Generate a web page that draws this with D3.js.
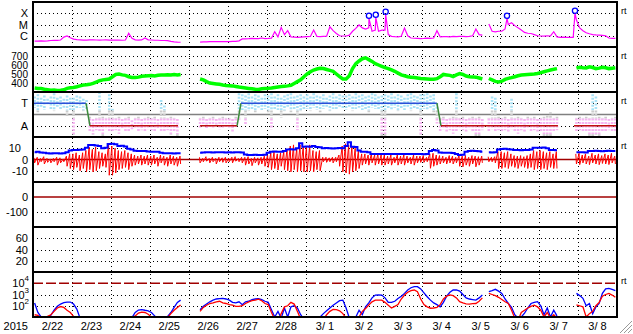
<!DOCTYPE html>
<html lang="en">
<head>
<meta charset="UTF-8">
<title>Space weather summary 2015/2/22 - 3/8</title>
<script src="https://d3js.org/d3.v7.min.js"></script>
<style>
  body { margin: 0; background: #fff; }
  svg { display: block; font-family: "Liberation Sans", Arial, sans-serif; }
  text { fill: #000; white-space: pre; }
</style>
</head>
<body>
<svg id="chart" width="633" height="334"></svg>
<script>
// ---- data: one value per 2-hour bin, starting 2015-02-22 00:00 UT (15 days = 180 bins) ----

const yearLabel = "2015";
const dayLabels = ["2/22","2/23","2/24","2/25","2/26","2/27","2/28","3/ 1","3/ 2","3/ 3","3/ 4","3/ 5","3/ 6","3/ 7","3/ 8"];

// GOES X-ray flux, log10(W/m2)
const xrayLog = [
  -6.47,-6.48,-6.46,-6.47,-6.45,-6.42,-6.40,-6.41,-6.38,-6.12,-6.02,-6.18,
  -6.30,-6.35,-6.36,-6.38,-6.38,-6.37,-6.36,-6.38,-6.39,-6.38,-6.37,-6.38,
  -6.38,-6.39,-6.38,-6.40,-6.38,-5.78,-6.22,-6.36,-6.38,-6.37,-6.20,-6.36,
  -6.38,-6.40,-6.40,-6.42,-6.42,-6.44,-6.50,-6.55,-6.57,-6.58,null,null,
  null,null,null,-6.57,-6.55,-6.54,-6.53,-6.53,-6.52,-6.53,-6.52,-6.52,
  -6.52,-6.50,-6.50,-6.45,-6.28,-6.27,-6.26,-6.24,-6.26,-6.25,-6.20,-6.25,
  -6.24,-6.22,-5.64,-6.10,-5.25,-5.90,-5.55,-6.10,-6.12,-6.14,-6.12,-6.10,
  -6.08,-6.06,-5.49,-6.05,-6.08,-6.06,-6.04,-5.20,-5.55,-5.80,-6.00,-6.02,
  -6.02,-5.95,-5.60,-5.35,-5.04,-5.30,-5.40,-5.30,-5.60,-5.50,-5.60,-5.50,
  -5.50,-5.90,-6.05,-6.08,-6.10,-6.05,-5.31,-6.00,-6.20,-6.22,-6.23,-6.25,
  -6.24,-6.22,-6.23,-6.20,-5.55,-6.10,-6.08,-6.07,-6.10,-6.05,-6.08,-6.06,
  -6.06,-6.08,-6.05,-6.00,-5.40,-5.90,-5.95,null,-4.95,-5.60,-5.65,-5.60,
  -5.60,-5.40,-5.00,-4.84,-5.10,-5.30,-5.49,-5.70,-5.78,-5.80,-5.90,-6.00,
  -6.02,-6.03,-6.00,-6.02,-5.64,-6.10,-6.14,-6.12,-6.14,-6.15,-6.14,-4.60,
  -5.31,-5.55,-5.73,-5.82,-5.90,-5.93,-5.95,-5.97,-6.00,-6.20,-6.23,-6.24
];
// flare peaks (hour from start, log10 flux)
const flareHour = [207.1, 211.3, 217.4, 292.2, 334.1];
const flareLog = [-4.45, -4.36, -4.09, -4.45, -4.0];

// solar wind speed, km/s
const speed = [
  345,340,338,330,325,320,322,318,320,324,340,348,
  350,358,368,378,380,385,395,410,425,435,440,445,
  470,495,500,490,485,470,462,460,465,475,478,480,
  482,478,485,488,490,492,488,495,490,495,null,null,
  null,null,null,445,435,415,400,395,390,385,378,372,
  370,368,362,355,350,345,340,335,330,328,335,340,
  342,345,350,355,360,365,368,375,395,415,435,470,
  500,525,544,555,563,560,550,540,530,500,470,445,
  445,480,560,615,645,670,680,660,640,615,600,585,
  570,560,545,530,510,490,480,470,465,460,455,450,
  448,445,441,442,448,470,495,490,485,472,490,505,
  495,478,470,468,465,455,444,null,450,435,418,412,
  420,440,452,460,470,480,488,492,495,498,500,505,
  515,525,535,545,552,560,null,null,null,null,null,565,
  575,570,568,580,572,560,565,575,570,560,565,570
];

// IMF sector scatter, spread per bin (+1 = toward, -1 = away)
const phiHi = [
  1.6,1.8,1.5,1.7,1.4,1.6,1.9,1.5,1.6,1.4,1.7,1.5,
  1.5,1.7,1.6,1.4,1.3,-0.2,-0.4,-0.3,2.0,-0.2,-0.3,1.8,
  0.5,-0.3,-0.2,-0.4,-0.3,-0.2,-0.5,-0.3,-0.2,-0.4,-0.3,-0.2,
  -0.3,-0.2,-0.4,1.3,0.8,-0.3,-0.2,-0.3,-0.4,null,null,null,
  null,null,null,-0.3,-0.2,-0.4,-0.3,-0.2,-0.4,-0.3,-0.2,-0.3,
  -0.3,-0.4,-0.2,1.9,1.8,1.7,1.9,1.6,1.8,1.7,1.5,1.8,
  1.7,1.9,1.6,1.8,1.5,1.7,1.8,1.9,1.6,1.7,1.8,1.6,
  1.8,1.6,1.9,1.7,1.6,1.8,1.5,1.7,1.9,1.6,1.8,1.7,
  1.7,1.8,1.6,1.9,1.7,1.8,1.6,1.7,1.9,1.8,1.6,1.7,
  1.8,1.7,1.9,1.6,1.8,1.7,1.5,1.8,1.9,1.7,1.6,1.8,
  1.8,1.9,1.7,1.8,1.0,-0.3,-0.2,-0.4,-0.3,-0.2,1.9,-0.3,
  -0.2,-0.4,-0.3,-0.2,-0.3,-0.2,-0.4,null,-0.3,1.6,1.5,-0.2,
  -0.3,-0.2,-0.4,1.4,-0.3,-0.2,-0.3,-0.4,-0.2,-0.3,-0.2,-0.4,
  -0.3,-0.2,-0.1,0.2,-0.3,-0.2,null,null,null,null,null,-0.3,
  -0.2,-0.3,-0.2,-0.3,1.8,1.6,-0.2,-0.3,-0.2,-0.4,-0.3,-0.2
];
const phiLo = [
  0.6,0.2,0.7,0.4,0.8,0.5,0.3,0.7,0.5,0.6,-0.2,0.4,
  -1.8,0.5,0.6,0.3,0.5,-1.5,-1.8,-1.4,-1.5,-1.9,-1.3,-1.6,
  -1.5,-1.4,-1.7,-1.3,-1.5,-1.6,-1.4,-1.2,-1.5,-1.4,-1.6,-1.3,
  -1.4,-1.5,-1.3,-1.5,-1.6,-1.4,-1.8,-1.5,-1.9,null,null,null,
  null,null,null,-1.2,-1.0,-1.3,-1.1,-1.2,-1.0,-1.3,-1.2,-1.1,
  -1.2,-1.6,-1.1,-0.5,0.4,-0.9,0.3,0.5,0.2,0.6,0.4,0.5,
  0.2,-1.3,0.5,0.4,-0.3,0.3,0.6,0.2,0.5,-1.4,0.3,0.4,
  0.5,0.3,0.6,0.4,0.2,0.5,0.7,0.3,0.5,0.4,0.6,0.5,
  0.4,0.6,0.3,0.5,0.6,0.4,0.5,0.2,0.6,0.5,0.4,-2.0,
  -1.9,0.5,0.4,0.6,0.3,0.5,0.4,0.6,0.3,0.5,0.4,-1.8,
  0.5,0.4,0.6,0.2,-0.8,-1.5,-1.3,-1.6,-1.4,-1.7,-1.5,-1.3,
  -1.4,-1.6,-1.3,-1.5,-1.9,-2.0,-1.4,null,-1.5,-1.3,-1.6,-1.4,
  -1.5,-1.4,-1.6,-1.3,-1.5,-1.7,-1.4,-1.6,-1.3,-1.5,-1.4,-1.6,
  -1.5,-1.9,-2.0,-2.0,-1.6,-1.4,null,null,null,null,null,-1.5,
  -1.4,-1.6,-1.5,-1.9,-2.0,-1.8,-2.0,-1.6,-1.5,-1.4,-1.6,-1.5
];
// sector boundary line (hour, side); null breaks the line
const sectorHour = [0, 32.7, 35.1, 89.4, null, 103, 125.8, 128.2, 249, 251.5, 323.6, null, 333.5, 360];
const sectorSide = [1, 1, -1, -1, null, -1, -1, 1, 1, -1, -1, null, -1, -1];

// IMF |B| (Bt) and Bz range per bin, nT
const bt = [
  6.5,6.8,6.2,6.0,5.5,5.4,5.6,5.5,5.3,5.6,6.5,8.0,
  8.4,8.5,8.6,8.8,10.5,12.9,13.0,12.5,12.0,10.0,10.5,13.8,
  14.0,13.5,12.0,12.2,11.5,9.5,9.0,7.8,7.6,7.5,7.6,7.2,
  7.0,7.0,6.8,6.0,5.5,5.5,5.6,5.4,5.5,5.5,null,null,
  null,null,null,6.0,6.2,6.4,6.5,6.3,6.4,6.5,6.4,6.3,
  6.4,6.3,6.5,6.4,6.2,4.5,4.0,4.0,4.2,3.9,4.0,4.2,
  6.0,7.0,7.2,7.0,6.8,7.5,9.0,9.2,9.0,10.0,14.4,11.4,
  11.5,11.4,12.0,11.2,11.0,10.0,10.2,10.0,9.8,10.0,10.2,10.0,
  12.0,15.3,11.4,11.2,8.0,7.0,7.0,6.5,5.0,4.9,4.8,4.9,
  5.0,4.9,4.8,4.9,5.0,4.9,4.8,4.9,4.9,4.8,4.9,5.0,
  4.6,4.8,7.5,8.4,8.0,6.2,6.0,6.0,6.1,5.8,5.0,4.0,
  4.2,7.0,7.6,7.8,7.5,7.4,7.0,null,6.4,6.3,6.5,9.0,
  9.3,9.5,9.2,9.0,8.5,8.4,8.3,8.4,8.5,9.0,10.5,10.4,
  10.5,10.6,10.0,8.4,8.5,8.3,null,null,null,null,null,6.4,
  6.4,6.5,6.3,7.6,7.5,7.7,7.6,7.4,7.6,7.8,7.5,7.6
];
const bzHi = [
  1.5,2,1,2.5,1,0.5,1,2,1.5,0.5,3,5,
  5,6,4,6,8,11,9,11,7,6,5,14,
  12,10,8,7,8,6,5,4,3,4,3,4,
  3,4,2,4,3,2,4,3,2,3,null,null,
  null,null,null,2,1,2.5,1,2,1,2,1.5,2,
  1,2,2.5,1,2,2,2.5,1,2,1.5,2,3,
  4,6,7,5,6,7,9,12,13,10,13,12,
  12,13,8,7,8,2,2,1.5,2,2,4,12,
  14,13,12,10,8,5,5,4,5.5,4,5,4,
  4,3,4,2,4,3,4,3,2,4,3,3,
  3.5,2,5,5.5,4,3.5,3,2,3.5,3,2,3.5,
  3,3.5,2,3.5,3,2.5,3,null,2.5,2,2.5,7,
  7,6,7,5,3.5,3,3.5,2.5,3.5,5,8,7,
  8,7,6,7,5,7,null,null,null,null,null,5,
  5.5,4,5,3,5.5,4,5,3.5,5,4,5.5,3
];
const bzLo = [
  -3,-5,-2,-4,-2.5,-3,-2,-5,-3,-2,-6,-8,
  -9,-7,-10,-8,-11,-9,-11,-10,-8,-6,-7,-14,
  -14,-12,-9,-8,-7,-9,-6,-5,-4,-5,-4,-5,
  -5,-4,-6,-3,-5,-6,-4,-5,-6,-4,null,null,
  null,null,null,-3,-2,-1.5,-3,-2,-4,-2,-2.5,-3,
  -2,-3,-1.5,-2,-3,-5,-4,-5.5,-3,-5,-4,-6,
  -7,-9,-8,-9.3,-6,-9,-10,-11,-9,-11,-10,-11,
  -11,-10,-11,-9,-10,-2,-2.5,-2,-3,-2,-6,-11,
  -12,-13,-11,-10,-8,-5,-4,-5,-3,-5,-4,-5,
  -5,-4,-5,-3,-5,-4,-5,-3,-4,-5,-3,-2.6,
  -2.6,-2,-7.8,-6,-5,-4,-3,-4,-3,-4,-3,-6,
  -6.5,-5,-6,-4,-6.5,-5,-3,null,-2,-2,-3,-8,
  -8,-7,-8,-6,-7,-8,-6,-7,-8,-7,-9,-8,
  -9,-8,-9,-7,-8,-8,null,null,null,null,null,-4,
  -4.6,-3,-4,-4.6,-3,-4,-4.6,-3.5,-4,-4.5,-3,-4
];

// electron flux, log10 (two channels)
const eBlue = [
  2.24,1.4,1.0,0.95,0.98,1.15,1.6,1.95,2.15,2.28,2.33,2.33,2.15,1.7,0.9,
  0.6,0.7,1.02,0.98,0.7,0.5,0.5,0.5,0.5,0.5,0.5,0.5,0.5,0.5,0.7,
  0.95,1.4,1.62,1.66,1.6,1.55,1.4,1.1,0.8,0.5,0.7,1.05,1.4,1.85,2.3,2.5,
  null,null,null,null,null,
  1.65,1.95,2.15,2.35,2.5,2.6,2.64,2.65,2.6,2.5,2.3,2.25,2.35,2.1,2.35,2.4,2.55,2.6,2.62,2.55,2.4,2.3,1.65,1.0,1.5,0.9,1.8,1.0,1.9,2.0,1.8,1.2,0.8,
  0.5,0.5,0.6,0.8,1.0,1.3,1.55,1.8,2.05,2.25,2.45,2.5,1.8,0.9,
  0.8,1.0,1.6,1.2,1.9,2.25,2.7,2.95,2.97,2.95,2.7,2.3,2.3,2.4,2.65,2.85,3.1,3.4,3.6,3.7,3.7,3.5,3.15,2.8,2.5,
  2.25,2.1,1.9,2.3,2.85,3.2,3.4,3.4,3.3,3.0,2.7,2.6,2.55,2.5,2.7,2.96,
  null,
  3.25,3.35,3.46,3.3,3.1,2.6,2.2,1.85,1.2,0.9,1.0,1.35,1.8,2.2,2.3,2.36,2.0,1.2,1.8,1.0,1.6,1.1,
  null,null,null,null,null,
  3.1,2.9,2.66,2.0,2.2,1.3,1.9,2.2,3.1,3.5,3.55,3.45,3.35
];
const eRed = [
  1.2,1.15,0.9,0.9,1.05,1.2,1.5,1.8,1.93,1.85,1.6,1.4,1.05,0.7,0.6,
  0.5,0.5,0.7,0.95,0.8,1.02,0.7,0.5,0.5,0.5,0.5,0.5,0.5,0.5,0.6,
  0.9,1.1,1.35,1.44,1.4,1.25,1.0,0.7,0.5,0.5,0.6,0.95,1.3,1.6,1.85,2.07,
  null,null,null,null,null,
  1.5,1.85,2.05,2.2,2.25,2.35,2.4,2.25,2.2,2.1,2.05,1.95,1.95,2.0,2.2,2.35,2.45,2.5,2.58,2.45,2.2,2.1,1.4,0.8,0.6,1.3,1.9,2.0,2.3,2.15,1.5,0.8,0.5,
  0.5,0.5,0.5,0.6,0.7,0.8,1.2,1.5,1.68,1.65,1.55,1.3,0.9,0.6,
  0.5,0.8,1.0,1.5,1.75,2.07,2.35,2.5,2.5,2.5,2.3,2.05,1.8,1.95,2.1,2.6,2.95,3.2,3.35,3.4,3.25,2.6,2.1,1.9,1.78,
  1.8,1.85,2.1,2.6,2.85,2.96,2.9,2.7,2.36,2.25,2.17,2.15,2.18,2.2,2.4,2.7,
  null,
  3.1,3.0,2.9,2.75,2.55,2.35,2.2,1.6,0.9,0.7,1.4,1.6,1.8,1.95,2.05,1.9,1.6,1.0,1.4,0.9,1.2,0.9,
  null,null,null,null,null,
  2.07,2.0,1.9,1.0,1.3,1.5,2.0,2.3,2.85,3.0,3.1,2.95,2.75
];

// axis ticks
const xrayTicks = [1e-4, 1e-5, 1e-6], xrayTickLabels = ["X", "M", "C"];
const speedTicks = [700, 600, 500, 400];
const sectorTicks = [1, -1], sectorTickLabels = ["T", "A"];
const bTicks = [10, -10];
const dstTicks = [-100];
const kpTicks = [60, 40, 20];
const eTicks = [1e3, 1e2], eTickExp = ["4", "3", "2"];

// ---- layout ----
const left = 33, right = 617, top0 = 2, panelH = 45, nPanels = 7;
const panelTop = k => top0 + k * panelH;
const bottom = panelTop(nPanels);
const hourOf = i => 2 * i + 1;

const svg = d3.select("#chart");
svg.append("rect").attr("width", 633).attr("height", 334).attr("fill", "#fff");

const x = d3.scaleLinear().domain([0, 360]).range([left, right]);
const yX = d3.scaleLog().domain([1e-7, 1e-3]).range([panelTop(1), panelTop(0)]);
const ySpeed = d3.scaleLinear().domain([300, 800]).range([panelTop(2), panelTop(1)]);
const ySector = d3.scaleLinear().domain([-2, 2]).range([panelTop(3), panelTop(2)]);
const yB = d3.scaleLinear().domain([-20, 20]).range([panelTop(4), panelTop(3)]);
const yDst = d3.scaleLinear().domain([-200, 100]).range([panelTop(5), panelTop(4)]);
const yKp = d3.scaleLinear().domain([0, 80]).range([panelTop(6), panelTop(5)]);
const yE = d3.scaleLog().domain([1e1, 1e5]).range([panelTop(7), panelTop(6)]);

// clip paths, one per panel
const defs = svg.append("defs");
for (let k = 0; k < nPanels; k++) {
  defs.append("clipPath").attr("id", "clip" + k)
    .append("rect").attr("x", left).attr("y", panelTop(k))
    .attr("width", right - left).attr("height", panelH);
}

const grid = svg.append("g");
const dotted = (y) => grid.append("line")
  .attr("x1", left).attr("x2", right).attr("y1", y).attr("y2", y)
  .attr("stroke", "#000").attr("stroke-width", 1).attr("stroke-dasharray", "1,3");

// vertical day lines
d3.range(1, 15).forEach(d => {
  grid.append("line")
    .attr("x1", Math.round(x(d * 24)) + 0.5).attr("x2", Math.round(x(d * 24)) + 0.5)
    .attr("y1", top0).attr("y2", bottom)
    .attr("stroke", "#000").attr("stroke-width", 1).attr("stroke-dasharray", "1,3");
});

const labels = svg.append("g").attr("font-size", 11);
function yLabel(y, txt, xr = 28, size = 11) {
  labels.append("text").attr("x", xr).attr("y", y + 4).attr("text-anchor", "end")
    .attr("font-size", size).text(txt);
}

// panel 0: X-ray
xrayTicks.forEach((v, i) => { dotted(Math.round(yX(v)) + 0.5); yLabel(yX(v), xrayTickLabels[i]); });
// panel 1: speed (labels sit close together)
speedTicks.forEach(v => { dotted(Math.round(ySpeed(v)) + 0.5); yLabel(ySpeed(v) - 0.5, String(v), 28, 10); });
// panel 2: sector
sectorTicks.forEach((v, i) => { dotted(Math.round(ySector(v)) + 0.5); yLabel(ySector(v), sectorTickLabels[i]); });
// panel 3: Bt/Bz
bTicks.forEach(v => dotted(Math.round(yB(v)) + 0.5));
yLabel(yB(10), "10", 21); yLabel(yB(0), "0"); yLabel(yB(-10), "-10");
// panel 4: Dst
dstTicks.forEach(v => dotted(Math.round(yDst(v)) + 0.5));
yLabel(yDst(0), "0"); yLabel(yDst(-100), "-100");
// panel 5
kpTicks.forEach(v => { dotted(Math.round(yKp(v)) + 0.5); yLabel(yKp(v), String(v)); });
// panel 6: electrons
eTicks.forEach(v => dotted(Math.round(yE(v)) + 0.5));
[1e4, 1e3, 1e2].forEach((v, i) => {
  const t = labels.append("text").attr("x", 29).attr("y", yE(v) + 4).attr("text-anchor", "end");
  t.append("tspan").text("10");
  t.append("tspan").attr("dy", -6).attr("font-size", 8).text(eTickExp[i]);
});

// reference lines
const refLine = (y, color, dash) => svg.append("line")
  .attr("x1", left).attr("x2", right).attr("y1", y).attr("y2", y)
  .attr("stroke", color).attr("stroke-width", 1.5)
  .attr("stroke-dasharray", dash || null);
refLine(ySector(0), "#808080");
refLine(yB(0), "#a00000");
refLine(yDst(0), "#a00000");
refLine(yE(1e4), "#a00000", "10,3");

// ---- data ----
// X-ray with flare peaks merged in
const gX = svg.append("g").attr("clip-path", "url(#clip0)");
const xrayPts = xrayLog.map((v, i) => ({ t: hourOf(i), v }))
  .concat(flareHour.map((t, j) => ({ t, v: flareLog[j] })))
  .sort((a, b) => a.t - b.t);
gX.append("path").datum(xrayPts)
  .attr("fill", "none").attr("stroke", "#ff00ff").attr("stroke-width", 1.2)
  .attr("d", d3.line().defined(d => d.v != null).x(d => x(d.t)).y(d => yX(Math.pow(10, d.v))));
gX.selectAll("circle").data(flareHour).join("circle")
  .attr("cx", (t) => x(t)).attr("cy", (t, j) => yX(Math.pow(10, flareLog[j])) - 2.5)
  .attr("r", 2.6).attr("fill", "none").attr("stroke", "#0000ff").attr("stroke-width", 1.3);

// solar wind speed
const gS = svg.append("g").attr("clip-path", "url(#clip1)");
gS.append("path").datum(speed)
  .attr("fill", "none").attr("stroke", "#00ff00").attr("stroke-width", 3.5)
  .attr("d", d3.line().defined(d => d != null).x((d, i) => x(hourOf(i))).y(d => ySpeed(d)));

// sector scatter
const gP = svg.append("g").attr("clip-path", "url(#clip2)");
const bands = [
  { lo: 0.35, hi: 2.5, color: "#a8e2f6" },
  { lo: -0.35, hi: 0.35, color: "#cccccc" },
  { lo: -1.75, hi: -0.35, color: "#f6b4f2" },
  { lo: -2.5, hi: -1.75, color: "#cccccc" }
];
phiHi.forEach((hi, i) => {
  const lo = phiLo[i];
  if (hi == null || lo == null) return;
  bands.forEach(b => {
    const a = Math.max(lo, b.lo), c = Math.min(hi, b.hi);
    if (c <= a) return;
    gP.append("line")
      .attr("x1", x(hourOf(i))).attr("x2", x(hourOf(i)))
      .attr("y1", ySector(c)).attr("y2", ySector(a))
      .attr("stroke", b.color).attr("stroke-width", 2.6).attr("stroke-dasharray", "2,1.5");
  });
});
for (let i = 0; i + 1 < sectorHour.length; i++) {
  if (sectorHour[i] == null || sectorHour[i + 1] == null) continue;
  const s0 = sectorSide[i], s1 = sectorSide[i + 1];
  const color = s0 !== s1 ? "#3c8c3c" : (s0 > 0 ? "#2a4fd8" : "#c01010");
  gP.append("line")
    .attr("x1", x(sectorHour[i])).attr("x2", x(sectorHour[i + 1]))
    .attr("y1", ySector(s0)).attr("y2", ySector(s1))
    .attr("stroke", color).attr("stroke-width", 1.5);
}

// Bz (red, sawtooth through each bin's range) and Bt (blue)
const gB = svg.append("g").attr("clip-path", "url(#clip3)");
const bzPts = [];
bzHi.forEach((hi, i) => {
  bzPts.push({ t: 2 * i + 0.6, v: hi });
  bzPts.push({ t: 2 * i + 1.0, v: bzLo[i] });
});
gB.append("path").datum(bzPts)
  .attr("fill", "none").attr("stroke", "#ff0000").attr("stroke-width", 1)
  .attr("d", d3.line().defined(d => d.v != null).x(d => x(d.t)).y(d => yB(d.v)));
gB.append("path").datum(bt)
  .attr("fill", "none").attr("stroke", "#0000ff").attr("stroke-width", 2)
  .attr("d", d3.line().defined(d => d != null).curve(d3.curveStep).x((d, i) => x(hourOf(i))).y(d => yB(d)));

// electrons
const gE = svg.append("g").attr("clip-path", "url(#clip6)");
[[eBlue, "#0000ff"], [eRed, "#ff0000"]].forEach(([series, color]) => {
  gE.append("path").datum(series)
    .attr("fill", "none").attr("stroke", color).attr("stroke-width", 1.3)
    .attr("d", d3.line().defined(d => d != null).x((d, i) => x(hourOf(i))).y(d => yE(Math.pow(10, d))));
});

// ---- frame ----
const frame = svg.append("g").attr("stroke", "#000").attr("stroke-width", 2);
d3.range(0, nPanels + 1).forEach(k => {
  frame.append("line").attr("x1", left - 1).attr("x2", right + 1)
    .attr("y1", panelTop(k)).attr("y2", panelTop(k));
});
frame.append("line").attr("x1", left).attr("x2", left).attr("y1", top0).attr("y2", bottom);
frame.append("line").attr("x1", right).attr("x2", right).attr("y1", top0).attr("y2", bottom);

// "rt" markers on the right
[0, 1, 2, 3, 6].forEach(k => {
  svg.append("text").attr("x", 621).attr("y", panelTop(k) + 11.5)
    .attr("font-size", 9).text("rt");
});

// date labels
labels.append("text").attr("x", 28).attr("y", 329.5).attr("text-anchor", "end").text(yearLabel);
dayLabels.forEach((lab, d) => {
  labels.append("text").attr("x", x(d * 24 + 12)).attr("y", 329.5)
    .attr("text-anchor", "middle").text(lab);
});

// window resize grip
[0, 4, 8].forEach(o => {
  svg.append("line").attr("x1", 620 + o).attr("y1", 333).attr("x2", 632).attr("y2", 321 + o)
    .attr("stroke", "#999").attr("stroke-width", 1);
});
</script>
</body>
</html>
